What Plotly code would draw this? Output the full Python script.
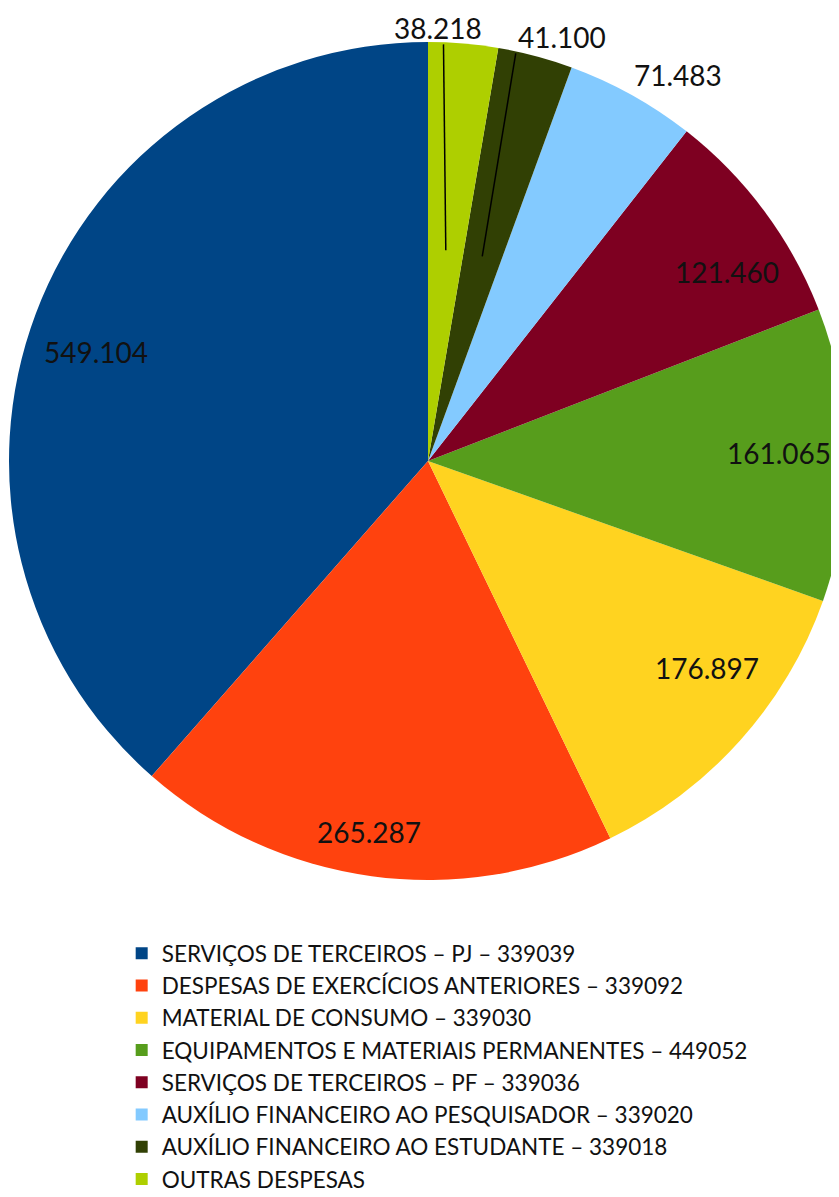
import math
import plotly.graph_objects as go

labels = [
    "SERVIÇOS DE TERCEIROS – PJ – 339039",
    "DESPESAS DE EXERCÍCIOS ANTERIORES – 339092",
    "MATERIAL DE CONSUMO – 339030",
    "EQUIPAMENTOS E MATERIAIS PERMANENTES – 449052",
    "SERVIÇOS DE TERCEIROS – PF – 339036",
    "AUXÍLIO FINANCEIRO AO PESQUISADOR – 339020",
    "AUXÍLIO FINANCEIRO AO ESTUDANTE – 339018",
    "OUTRAS DESPESAS",
]
values = [549104, 265287, 176897, 161065, 121460, 71483, 41100, 38218]
colors = ["#004586", "#ff420e", "#ffd320", "#579d1c", "#7e0021", "#83caff", "#314004", "#aecf00"]

# label placement: radius factor, angle shift (deg, ccw) from slice bisector, leader line
label_r = [0.833, 0.897, 0.829, 0.838, 0.844, 1.098, 1.060, 1.034]
label_shift = [2.4, -1.3, 5.25, 0.45, -4.25, -3.9, -2.65, 3.46]
leader = [False, False, False, False, False, False, True, True]

W, H = 839, 1197
dom_x = [1 / W, 1.0]
dom_y = [1 - 872 / H, 1 - 34 / H]
total = sum(values)

# first slice runs counterclockwise from 12 o'clock
fig = go.Figure(go.Pie(
    labels=labels, values=values, sort=False, direction="counterclockwise",
    rotation=-values[0] / total * 360, marker=dict(colors=colors, line=dict(width=0)),
    textinfo="none", hoverinfo="label+value",
    domain=dict(x=dom_x, y=dom_y),
))

# pie geometry in paper pixels (margins are zero)
cx = (dom_x[0] + dom_x[1]) / 2 * W
cy = (dom_y[0] + dom_y[1]) / 2 * H
r = min((dom_x[1] - dom_x[0]) * W, (dom_y[1] - dom_y[0]) * H) / 2


def to_paper(ang, rad):
    a = math.radians(ang)
    return (cx - rad * math.sin(a)) / W, (cy + rad * math.cos(a)) / H


start = 0.0
for i, v in enumerate(values):
    mid = start + v / total * 180
    start += v / total * 360
    px, py = to_paper(mid + label_shift[i], r * label_r[i])
    fig.add_annotation(x=px, y=py, xref="paper", yref="paper", showarrow=False,
                       xanchor="center", yanchor="middle", borderpad=0,
                       text=f"{v:,}".replace(",", "."),
                       font=dict(size=28, color="#111111"))
    if leader[i]:
        x0, y0 = to_paper(mid, r * 0.505)
        x1, y1 = to_paper(mid + 2.7, r * 0.995)
        fig.add_shape(type="line", xref="paper", yref="paper", x0=x0, y0=y0, x1=x1, y1=y1,
                      line=dict(color="black", width=1.5))

fig.update_layout(
    width=W, height=H, margin=dict(l=0, r=0, t=0, b=0),
    paper_bgcolor="white", plot_bgcolor="white",
    font=dict(family="Lato, 'Open Sans', sans-serif", color="#111111"),
    legend=dict(x=0.1355, y=1 - 924 / H, xanchor="left", yanchor="top",
                font=dict(size=22.5), traceorder="normal"),
)

fig.write_html("out.html")
